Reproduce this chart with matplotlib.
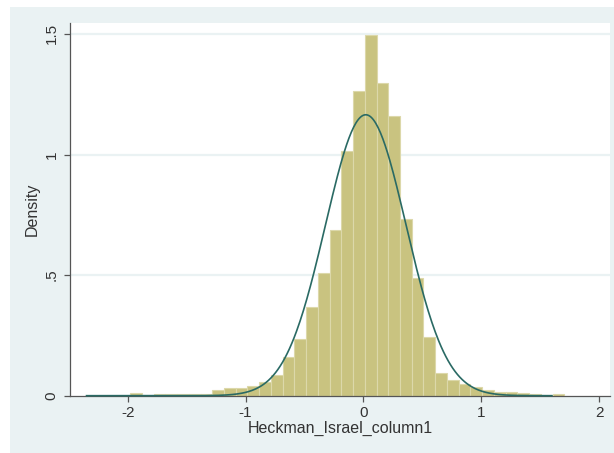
import numpy as np
import matplotlib
matplotlib.use("Agg")
import matplotlib.pyplot as plt
from matplotlib.patches import Rectangle

plt.rcParams['font.family'] = ['Liberation Sans', 'DejaVu Sans']
plt.rcParams['axes.unicode_minus'] = False

# histogram bins (Stata style: equal width)
bin_start = -1.980
bin_width = 0.0996
densities = [0.012, 0.0, 0.008, 0.008, 0.008, 0.008, 0.009,
             0.023, 0.031, 0.031, 0.040, 0.058, 0.086, 0.159, 0.234,
             0.369, 0.509, 0.689, 1.014, 1.262, 1.496, 1.297, 1.159,
             0.733, 0.490, 0.245, 0.095, 0.067, 0.049, 0.035, 0.024,
             0.017, 0.015, 0.010, 0.008, 0.004, 0.005]

# normal overlay parameters
norm_mean = 0.02
norm_sd = 0.3425
data_min = -2.35
data_max = 1.60

x_ticks = [-2, -1, 0, 1, 2]
x_tick_labels = ['-2', '-1', '0', '1', '2']
y_ticks = [0, 0.5, 1, 1.5]
y_tick_labels = ['0', '.5', '1', '1.5']

bar_color = '#c9c380'
bar_edge = '#dcd8aa'
line_color = '#2a6a64'
bg_color = '#eaf2f3'

fig = plt.figure(figsize=(6.14, 4.53), dpi=100)
fig.patch.set_facecolor('white')
fig.patches.append(Rectangle((10 / 614, 0), 1 - 10 / 614, 446 / 453,
                             transform=fig.transFigure, facecolor=bg_color,
                             edgecolor='none', zorder=-5))

ax = fig.add_axes([70.3 / 614, 1 - 395.7 / 453, 539.2 / 614, 372.4 / 453])
ax.set_zorder(1)
ax.set_facecolor('white')

lefts = bin_start + bin_width * np.arange(len(densities))
ax.bar(lefts, densities, width=bin_width, align='edge', color=bar_color,
       edgecolor=bar_edge, linewidth=0.8, zorder=2)

xs = np.linspace(data_min, data_max, 400)
ys = np.exp(-0.5 * ((xs - norm_mean) / norm_sd) ** 2) / (norm_sd * np.sqrt(2 * np.pi))
ax.plot(xs, ys, color=line_color, linewidth=1.2, zorder=4, clip_on=False)

ax.set_xlim(-2.488, 2.089)
ax.set_ylim(0, 1.544)

for yv in y_ticks[1:]:
    ax.axhline(yv, color=bg_color, linewidth=1.6, zorder=1)

ax.set_xticks(x_ticks)
ax.set_xticklabels(x_tick_labels)
ax.set_yticks(y_ticks)
ax.set_yticklabels(y_tick_labels, rotation=90, va='center')

for s in ['top', 'right']:
    ax.spines[s].set_visible(False)
for s in ['left', 'bottom']:
    ax.spines[s].set_color('#555555')
    ax.spines[s].set_linewidth(0.9)
    ax.spines[s].set_zorder(3)

ax.tick_params(axis='both', colors='#555555', labelcolor='#333333',
               labelsize=11, length=4.3, width=0.9)
ax.tick_params(axis='y', pad=4.0)
ax.tick_params(axis='x', pad=3.2)

ax.set_xlabel('Heckman_Israel_column1', fontsize=11.5, color='#333333')
ax.xaxis.set_label_coords(0.5, -0.089)
ax.xaxis.label.set_va('center')
ax.set_ylabel('Density', fontsize=11.5, color='#333333')
ax.yaxis.set_label_coords(-0.071, 0.5)
ax.yaxis.label.set_va('center')

plt.savefig('out.png', dpi=100)
